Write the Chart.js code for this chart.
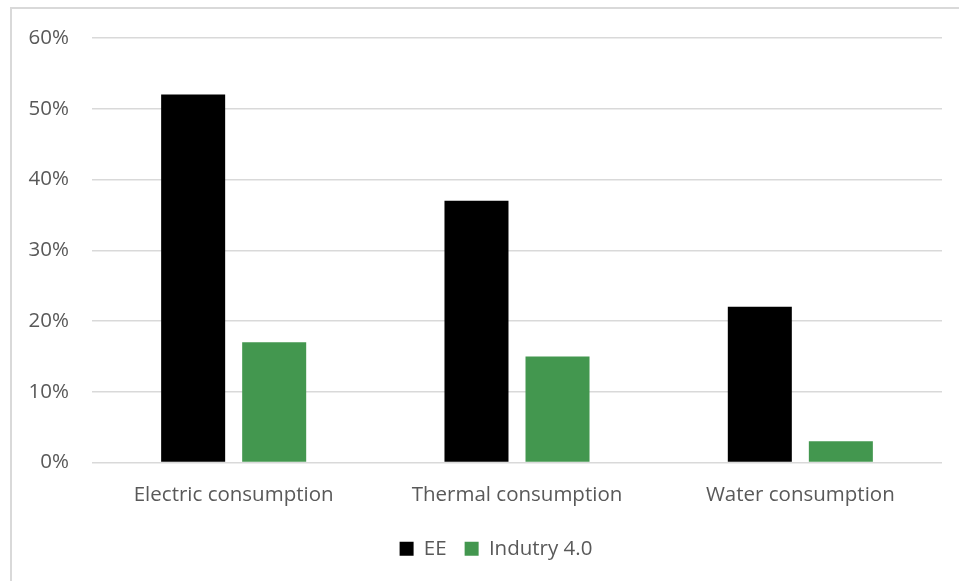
<!DOCTYPE html>
<html>
<head>
<meta charset="utf-8">
<script src="https://cdn.jsdelivr.net/npm/chart.js@4/dist/chart.umd.min.js"></script>
<style>
  html, body { margin: 0; padding: 0; background: #ffffff; overflow: hidden; }
  #wrap { position: absolute; left: 0; top: 0; width: 959px; height: 581px; }
</style>
</head>
<body>
<div id="wrap"><canvas id="c" width="959" height="581"></canvas></div>
<script>
// Consumption categories and the share for each approach (percent)
const categories = ['Electric consumption', 'Thermal consumption', 'Water consumption'];
const eeValues = [52, 37, 22];
const industryValues = [17, 15, 3];
const seriesNames = ['EE', 'Indutry 4.0'];
const yTickValues = [0, 10, 20, 30, 40, 50, 60];

const textColor = '#595959';
const gridColor = '#d9d9d9';
const fontFamily = '"Open Sans", Lato, sans-serif';
const fontSize = 20.5;

// Outer frame of the chart box, and the legend centred on the frame
const framePlugin = {
  id: 'frame',
  afterLayout(chart) {
    const lg = chart.legend;
    if (lg) { lg.left += 25; lg.right += 25; }
  },
  beforeDraw(chart) {
    const ctx = chart.ctx;
    ctx.save();
    ctx.fillStyle = '#ffffff';
    ctx.fillRect(0, 0, chart.width, chart.height);
    ctx.strokeStyle = '#d9d9d9';
    ctx.lineWidth = 2;
    ctx.strokeRect(11, 8, chart.width + 20, chart.height + 20);
    ctx.restore();
  }
};

new Chart(document.getElementById('c'), {
  type: 'bar',
  data: {
    labels: categories,
    datasets: [
      { label: seriesNames[0], data: eeValues, backgroundColor: '#000000',
        categoryPercentage: 0.572, barPercentage: 0.79 },
      { label: seriesNames[1], data: industryValues, backgroundColor: '#43974f',
        categoryPercentage: 0.572, barPercentage: 0.79 }
    ]
  },
  options: {
    responsive: false,
    animation: false,
    devicePixelRatio: 1,
    layout: { padding: { left: 0, right: 17, top: 38, bottom: 12 } },
    plugins: {
      legend: {
        position: 'bottom',
        labels: {
          color: textColor,
          font: { family: fontFamily, size: fontSize },
          boxWidth: 14,
          boxHeight: 14,
          padding: 18
        }
      },
      tooltip: { enabled: false }
    },
    scales: {
      x: {
        grid: { display: false },
        border: { display: false },
        ticks: { color: textColor, font: { family: fontFamily, size: fontSize }, padding: 12 },
        afterFit(scale) { scale.height = 58; }
      },
      y: {
        min: 0,
        max: 60,
        afterBuildTicks(scale) { scale.ticks = yTickValues.map(v => ({ value: v })); },
        grid: { color: gridColor, lineWidth: 1.5, drawTicks: false },
        border: { display: false },
        ticks: {
          color: textColor,
          font: { family: fontFamily, size: fontSize },
          padding: 23,
          callback: v => v + '%'
        },
        afterFit(scale) { scale.width = 92; }
      }
    }
  },
  plugins: [framePlugin]
});
</script>
</body>
</html>
